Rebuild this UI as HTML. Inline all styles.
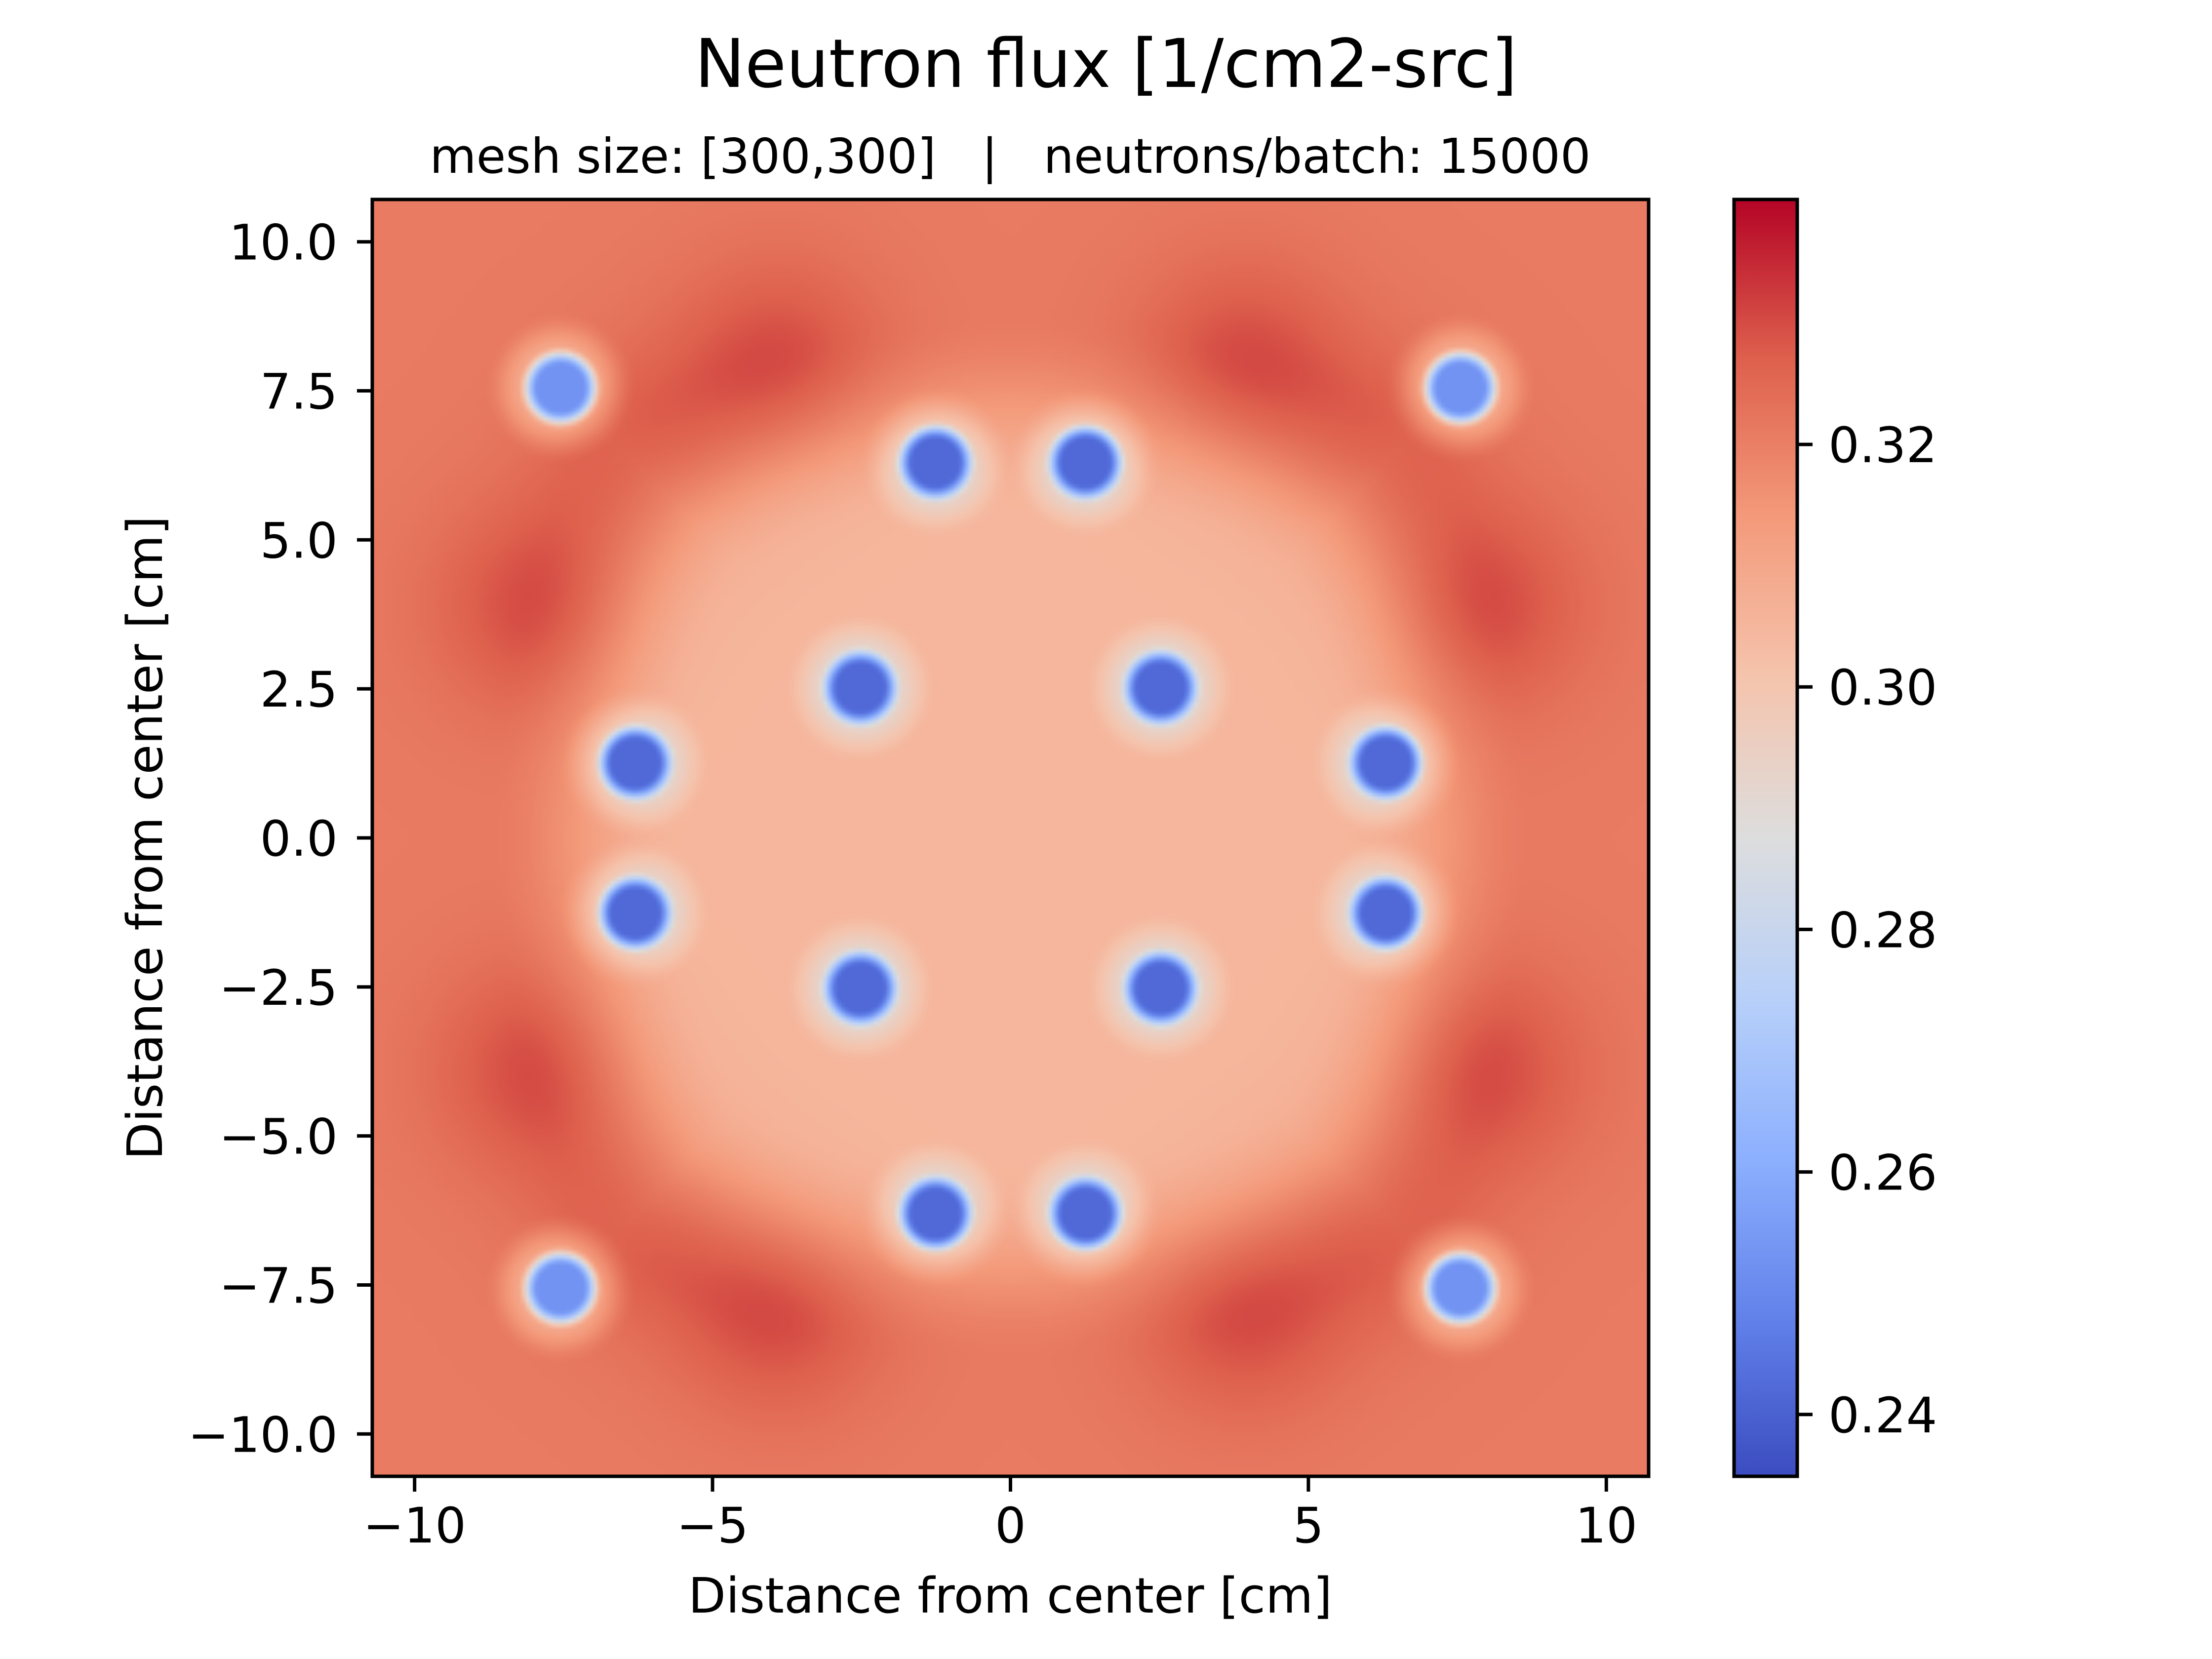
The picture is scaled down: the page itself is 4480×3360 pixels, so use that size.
<!DOCTYPE html>
<html><head><meta charset="utf-8"><style>
html,body{margin:0;padding:0;background:#fff;}
#wrap{position:relative;width:4480px;height:3360px;overflow:hidden;font-family:"DejaVu Sans","Liberation Sans",sans-serif;}
canvas{position:absolute;}
svg{position:absolute;left:0;top:0;}
</style></head><body>
<div id="wrap">
<canvas id="heat" width="300" height="300" style="left:754px;top:404px;width:2585px;height:2586px;"></canvas>
<svg id="ov" width="4480" height="3360"></svg>
</div>
<script>
// ---- data ----
const extent = 10.71;
const gridN = 300;
const pinX = [-7.55, 7.55, -7.55, 7.55, -1.26, 1.26, -1.26, 1.26, -6.3, 6.3, -6.3, 6.3, -2.52, 2.52, -2.52, 2.52];
const pinY = [7.55, 7.55, -7.55, -7.55, 6.3, 6.3, -6.3, -6.3, 1.26, 1.26, -1.26, -1.26, 2.52, 2.52, -2.52, -2.52];
const pinFlux = [0.253, 0.253, 0.253, 0.253, 0.242, 0.242, 0.242, 0.242, 0.242, 0.242, 0.242, 0.242, 0.242, 0.242, 0.242, 0.242];
const hotX = [-3.9, 3.9, -3.9, 3.9, -7.9, 7.9, -7.9, 7.9, -6.0, 6.0, -6.0, 6.0];
const hotY = [7.9, 7.9, -7.9, -7.9, 3.9, 3.9, -3.9, -3.9, 6.3, 6.3, -6.3, -6.3];
const hotAmp = [0.009, 0.009, 0.009, 0.009, 0.009, 0.009, 0.009, 0.009, 0.007, 0.007, 0.007, 0.007];
const innerFlux = 0.305;
const outerFlux = 0.321;
const vmin = 0.2349, vmax = 0.3402;
const xTicks = [-10, -5, 0, 5, 10];
const xTickLabels = ["\u221210", "\u22125", "0", "5", "10"];
const yTicks = [10, 7.5, 5, 2.5, 0, -2.5, -5, -7.5, -10];
const yTickLabels = ["10.0", "7.5", "5.0", "2.5", "0.0", "\u22122.5", "\u22125.0", "\u22127.5", "\u221210.0"];
const cbTicks = [0.24, 0.26, 0.28, 0.30, 0.32];
const cbTickLabels = ["0.24", "0.26", "0.28", "0.30", "0.32"];
const cmapPos = [0, 0.125, 0.25, 0.375, 0.5, 0.625, 0.75, 0.875, 1];
const cmapCol = [[59,76,192],[98,130,234],[141,176,254],[184,208,249],[221,221,221],[245,196,173],[244,154,123],[222,96,77],[180,4,38]];

// ---- layout ----
const PX0 = 754, PX1 = 3339, PY0 = 404, PY1 = 2990;
const CBX0 = 3512, CBX1 = 3640;
const FS = 99;
const sx = v => PX0 + (v + extent) / (2 * extent) * (PX1 - PX0);
const sy = v => PY1 - (v + extent) / (2 * extent) * (PY1 - PY0);
const cy = v => PY1 - (v - vmin) / (vmax - vmin) * (PY1 - PY0);

function cmap(t){
  t = Math.max(0, Math.min(1, t));
  for (let i = 0; i < cmapPos.length - 1; i++) {
    if (t <= cmapPos[i+1]) {
      const f = (t - cmapPos[i]) / (cmapPos[i+1] - cmapPos[i]);
      return cmapCol[i].map((c, k) => Math.round(c + (cmapCol[i+1][k] - c) * f));
    }
  }
  return cmapCol[cmapCol.length-1];
}
function ss(a, b, x){ const t = Math.max(0, Math.min(1, (x - a) / (b - a))); return t*t*(3-2*t); }

function field(x, y){
  const r = Math.max(Math.abs(x), Math.abs(y)) * 0.45 + Math.hypot(x, y) * 0.55;
  let v = innerFlux + (outerFlux - innerFlux) * ss(5.5, 8.8, r);
  for (let i = 0; i < hotX.length; i++) {
    const d2 = (x-hotX[i])**2 + (y-hotY[i])**2;
    v += hotAmp[i] * Math.exp(-d2 / 3.0);
  }
  for (let i = 0; i < pinX.length; i++) {
    const d = Math.hypot(x-pinX[i], y-pinY[i]);
    if (d < 1.4) {
      const f = ss(0.38, 0.72, d);
      const halo = 0.014 * (1 - ss(0.5, 1.3, d));
      const pv = pinFlux[i] + (v - halo - pinFlux[i]) * f;
      v = Math.min(v, pv);
    }
  }
  return v;
}

// heatmap
const cv = document.getElementById('heat'), ctx = cv.getContext('2d');
const img = ctx.createImageData(gridN, gridN);
for (let j = 0; j < gridN; j++) {
  for (let i = 0; i < gridN; i++) {
    const x = -extent + (i + 0.5) / gridN * 2 * extent;
    const y = extent - (j + 0.5) / gridN * 2 * extent;
    const c = cmap((field(x, y) - vmin) / (vmax - vmin));
    const p = (j * gridN + i) * 4;
    img.data[p] = c[0]; img.data[p+1] = c[1]; img.data[p+2] = c[2]; img.data[p+3] = 255;
  }
}
ctx.putImageData(img, 0, 0);

// overlay
const NS = 'http://www.w3.org/2000/svg';
const svg = document.getElementById('ov');
function mk(tag, attrs, text){
  const e = document.createElementNS(NS, tag);
  for (const k in attrs) e.setAttribute(k, attrs[k]);
  if (text !== undefined) e.textContent = text;
  svg.appendChild(e);
  return e;
}
const FONT = '"DejaVu Sans","Liberation Sans",sans-serif';

let t = mk('text', {x: 2240, y: 176, 'font-size': 136, 'text-anchor': 'middle', 'font-family': FONT}, 'Neutron flux [1/cm2-src]');


t = mk('text', {x: 2046, y: 350, 'font-size': 97, 'text-anchor': 'middle', 'font-family': FONT, style: 'white-space:pre'}, 'mesh size: [300,300]   |   neutrons/batch: 15000');



let fr = mk('rect', {x: PX0, y: PY0, width: PX1-PX0, height: PY1-PY0, fill: 'none', stroke: '#000', 'stroke-width': 7});



xTicks.forEach((v, i) => {
  const x = sx(v);
  const l = mk('line', {x1: x, x2: x, y1: PY1, y2: PY1 + 31, stroke: '#000', 'stroke-width': 7});
  
  
  const tx = mk('text', {x: x, y: PY1 + 134, 'font-size': FS, 'text-anchor': 'middle', 'font-family': FONT}, xTickLabels[i]);
  
  
});
yTicks.forEach((v, i) => {
  const y = sy(v);
  const l = mk('line', {x1: PX0 - 31, x2: PX0, y1: y, y2: y, stroke: '#000', 'stroke-width': 7});
  
  
  const tx = mk('text', {x: PX0 - 70, y: y + 36, 'font-size': FS, 'text-anchor': 'end', 'font-family': FONT}, yTickLabels[i]);
  
  
});
t = mk('text', {x: 2046, y: 3266, 'font-size': FS, 'text-anchor': 'middle', 'font-family': FONT}, 'Distance from center [cm]');


t = mk('text', {x: 0, y: 0, 'font-size': FS, 'text-anchor': 'middle', 'font-family': FONT, transform: 'translate(328,1697) rotate(-90)'}, 'Distance from center [cm]');



// colorbar
const defs = mk('defs', {});
const grad = document.createElementNS(NS, 'linearGradient');
grad.setAttribute('id', 'cbg'); grad.setAttribute('x1', 0); grad.setAttribute('y1', 1); grad.setAttribute('x2', 0); grad.setAttribute('y2', 0);
cmapPos.forEach((p, i) => {
  const s = document.createElementNS(NS, 'stop');
  s.setAttribute('offset', p);
  s.setAttribute('stop-color', 'rgb(' + cmapCol[i].join(',') + ')');
  grad.appendChild(s);
});
defs.appendChild(grad);
let cb = mk('rect', {x: CBX0, y: PY0, width: CBX1-CBX0, height: PY1-PY0, fill: 'url(#cbg)', stroke: '#000', 'stroke-width': 7});


cbTicks.forEach((v, i) => {
  const y = cy(v);
  const l = mk('line', {x1: CBX1, x2: CBX1 + 31, y1: y, y2: y, stroke: '#000', 'stroke-width': 7});
  
  
  const tx = mk('text', {x: CBX1 + 63, y: y + 36, 'font-size': FS, 'font-family': FONT}, cbTickLabels[i]);
  
  
});
</script>
</body></html>
